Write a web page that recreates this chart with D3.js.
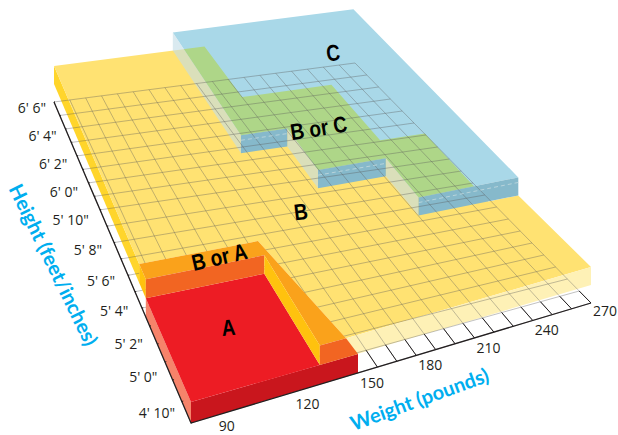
<!DOCTYPE html>
<html>
<head>
<meta charset="utf-8">
<script src="https://d3js.org/d3.v7.min.js"></script>
<style>
  body { margin: 0; background: #fff; }
  svg { display: block; }
  text { font-family: "Open Sans", sans-serif; }
  .tick { font-size: 14px; fill: #231f20; }
  .title { font-family: Lato, sans-serif; font-size: 20px; font-weight: bold; fill: #00aeef; }
  .zone { font-family: "Liberation Sans", sans-serif; font-size: 19px; font-weight: bold; fill: #000; text-anchor: middle; }
</style>
</head>
<body>
<svg id="chart" width="618" height="435"></svg>
<script>
// axis values, weight in pounds, height in inches
const weightTicks = [90, 120, 150, 180, 210, 240, 270];
const heightTicks = [58, 60, 62, 64, 66, 68, 70, 72, 74, 76, 78];
const heightNames = ["4' 10\"", "5' 0\"", "5' 2\"", "5' 4\"", "5' 6\"", "5' 8\"", "5' 10\"", "6' 0\"", "6' 2\"", "6' 4\"", "6' 6\""];

// outlines of the zones as [weight, height]
const zoneB = [[80, 78], [175, 78], [175, 74], [228, 74], [228, 69.5], [253, 69.5], [253, 64], [269, 64], [270, 58], [145, 58], [135, 64.4], [80, 64.4]];
const zoneC = [[155, 78], [269, 78], [269, 64], [216, 64], [216, 67], [179, 67], [179, 70], [153, 70]];
const zoneBA = [[80, 64.4], [135, 64.4], [145, 58], [134, 58], [134, 63.5], [80, 63.5]];
const zoneA = [[80, 58], [134, 58], [134, 63.5], [80, 63.5]];
const zoneFront = [[80, 58], [150, 58]];

const cSteps = [[[153, 70], [179, 70]], [[179, 67], [216, 67]], [[216, 64], [269, 64]]];
const cSides = [[[155, 78], [153, 70]], [[179, 70], [179, 67]], [[216, 67], [216, 64]]];

const zoneLabels = ["C", "B or C", "B", "B or A", "A"];
const zoneSpots = [[236, 75, 3], [203, 71, 2], [163, 65.7, 2], [116, 63.9, 2], [108, 61, 1]];
const zoneTilt = [-7, -9, -7, -13, -5];

// the picture is drawn by hand, so each edge of the floor gets its own scale
const weightBottom = d3.scaleLinear().domain([80, 150, 270]).range([0, 0.4175, 1]);
const weightTop = d3.scaleLinear().domain([80, 270]).range([0, 1]);
const heightLeft = d3.scaleLinear().domain([58, 60, 64, 70, 78]).range([0, 0.134, 0.358, 0.664, 1]);
const heightRight = d3.scaleLinear().domain([58, 78]).range([0, 1]);

// height labels drift off their ticks
const heightLabelDx = d3.scaleLinear().domain([58, 78]).range([-4, 4]);
const heightLabelDy = d3.scaleLinear().domain([58, 60, 64, 70, 78]).range([-10, -3, 3, 10, 6]);

const corner = { origin: [191, 423], right: [591, 303], back: [54, 102], far: [355, 63] };
const mix = (a, b, t) => a + (b - a) * t;

function project(w, h, level = 0) {
  const v = heightRight(h);
  const sl = heightLeft(h);
  const u = mix(weightBottom(w), weightTop(w), v);
  const lx = mix(corner.origin[0], corner.back[0], sl);
  const ly = mix(corner.origin[1], corner.back[1], sl);
  const rx = mix(corner.right[0], corner.far[0], v);
  const ry = mix(corner.right[1], corner.far[1], v);
  const lift = 18 + 3 * Math.pow(1 - sl, 3) * Math.pow(1 - u, 2);
  return [mix(lx, rx, u), mix(ly, ry, u) - level * lift];
}

const svg = d3.select("#chart");
const line = d3.line();
const pathAt = (pts, level, close) => line(pts.map((p) => project(p[0], p[1], level))) + (close ? "Z" : "");
const face = (a, b, low, high) =>
  line([project(a[0], a[1], high), project(b[0], b[1], high), project(b[0], b[1], low), project(a[0], a[1], low)]) + "Z";

svg.append("clipPath").attr("id", "inC").append("path").attr("d", pathAt(zoneC, 3, true));

const bandPoly = (fill, d) => svg.append("path").attr("d", d).attr("fill", fill);

// side of the B slab, top of B, then top of C with the overlap in green
bandPoly("#ffd52b", face([80, 78], [80, 64.4], 1, 2));
bandPoly("#ffe272", pathAt(zoneB, 2, true));
bandPoly("#fef1b6", face([270, 58], [145, 58], 1, 2));
bandPoly("#a9d8e8", pathAt(zoneC, 3, true));
bandPoly("#aed688", pathAt(zoneB, 2, true)).attr("clip-path", "url(#inC)");

cSides.forEach((s) => bandPoly("#c4dde6", face(s[0], s[1], 2, 3)).attr("fill-opacity", 0.62));
cSteps.forEach((s) => bandPoly("#86b9cb", face(s[0], s[1], 2, 3)));

// floor grid, seen through the slabs
const gridWeights = d3.range(80, 271, 10);
const gridHeights = d3.range(58, 79, 1);
const grid = svg.append("g").attr("fill", "none").attr("stroke", "#5a5a5a").attr("stroke-opacity", 0.42).attr("stroke-width", 0.9);
gridWeights.forEach((w) => grid.append("path").attr("d", pathAt(gridHeights.map((h) => [w, h]), 0)));
gridHeights.forEach((h) => grid.append("path").attr("d", pathAt([[80, h], [270, h]], 0)));

// pale dashes along the stepped walls
cSteps.forEach((s) => {
  svg.append("path").attr("d", pathAt(s, 2.72)).attr("fill", "none")
    .attr("stroke", "#c3d9de").attr("stroke-width", 0.8).attr("stroke-dasharray", "4,3");
});

// A zone and the B or A rim around it
bandPoly("#c9161d", face(zoneFront[0], zoneFront[1], 0, 1));
bandPoly("#f6836a", face([80, 58], [80, 63.5], 0, 1));
bandPoly("#ffc20e", face([80, 63.5], [80, 64.4], 1, 2));
bandPoly("#ed1c24", pathAt(zoneA, 1, true));
bandPoly("#faa21b", pathAt(zoneBA, 2, true));
bandPoly("#f26522", face([80, 63.5], [134, 63.5], 1, 2));
bandPoly("#ffc20e", face([134, 63.5], [134, 58], 1, 2));
bandPoly("#f26522", line([project(134, 58, 2), project(145, 58, 2), project(150, 58, 1), project(134, 58, 1)]) + "Z");

// axes
const axis = svg.append("g").attr("fill", "none").attr("stroke", "#231f20");
axis.append("path").attr("stroke-width", 1.3)
  .attr("d", pathAt(gridHeights.map((h) => [80, h]).reverse().concat([[270, 58]]), 0));
gridHeights.forEach((h) => axis.append("path").attr("stroke-width", 1).attr("d", pathAt([[80, h], [80.6, h]], 0)));
gridWeights.filter((w) => w > 150).forEach((w) => axis.append("path").attr("stroke-width", 1).attr("d", pathAt([[w, 58], [w, 59]], 0)));

svg.selectAll(".wlabel").data(weightTicks).enter().append("text")
  .attr("class", "tick wlabel").attr("text-anchor", "middle")
  .attr("x", (d) => project(d, 58)[0] + (d === 90 ? 12 : d === 120 ? 21 : 14))
  .attr("y", (d) => project(d, 58)[1] + (d === 270 ? 13 : 15))
  .text((d) => d);

svg.selectAll(".hlabel").data(heightTicks).enter().append("text")
  .attr("class", "tick hlabel").attr("text-anchor", "end")
  .attr("x", (d) => project(80, d)[0] - 12 + heightLabelDx(d))
  .attr("y", (d) => project(80, d)[1] + 5 + heightLabelDy(d))
  .text((d, i) => heightNames[i]);

svg.append("text").attr("class", "title").attr("text-anchor", "middle")
  .attr("transform", "translate(47,268) rotate(64)").text("Height (feet/inches)");
svg.append("text").attr("class", "title").attr("text-anchor", "middle")
  .attr("transform", "translate(422,406) rotate(-20)").text("Weight (pounds)");

zoneLabels.forEach((t, i) => {
  const p = project(zoneSpots[i][0], zoneSpots[i][1], zoneSpots[i][2]);
  svg.append("text").attr("class", "zone")
    .attr("transform", `translate(${p[0]},${p[1] + 8}) rotate(${zoneTilt[i]}) scale(1,1.2)`)
    .text(t);
});
</script>
</body>
</html>
